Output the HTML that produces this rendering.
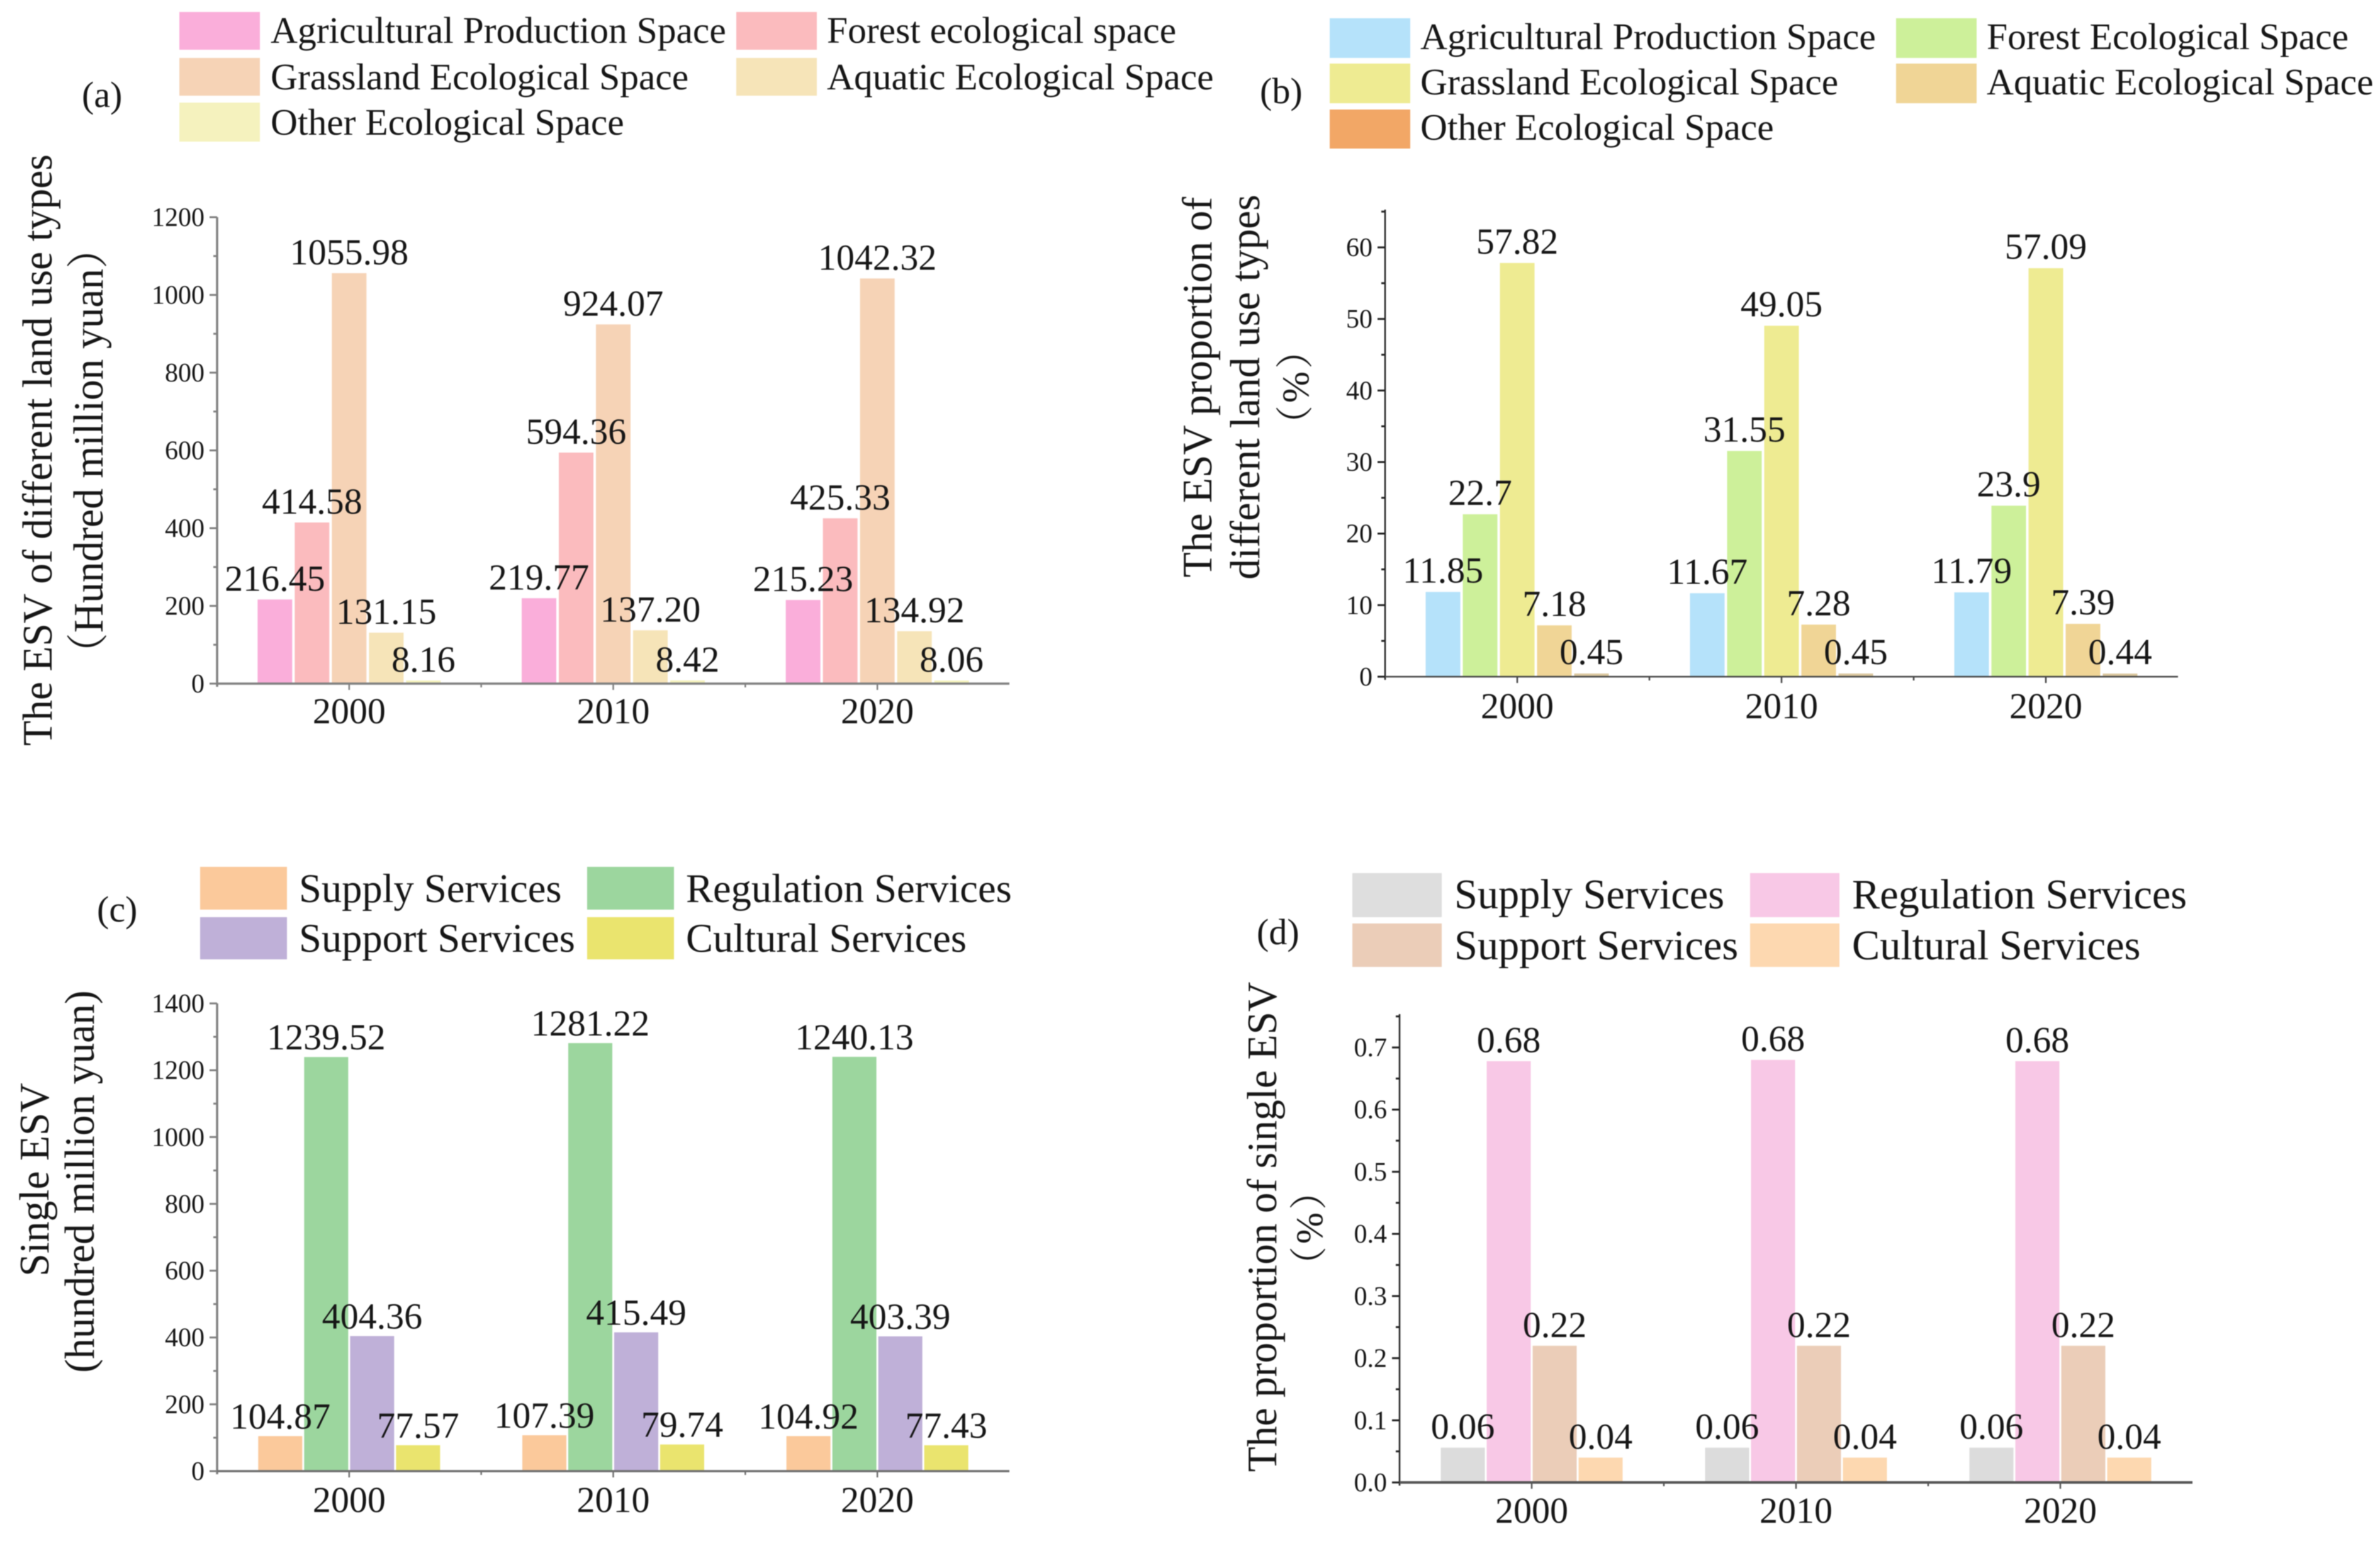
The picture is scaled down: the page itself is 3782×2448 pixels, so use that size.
<!DOCTYPE html>
<html lang="en">
<head>
<meta charset="utf-8">
<title>ESV of land use types and single services</title>
<style>
html,body{margin:0;padding:0;background:#fff;width:3782px;height:2448px;overflow:hidden}
svg{display:block;filter:blur(0.7px)}
text{font-family:"Liberation Serif","Noto Serif CJK SC",serif;fill:#161616}
.leg{font-size:59.5px}
.leg2{font-size:64.5px}
.leg3{font-size:66.3px}
.pl{font-size:58px}
.yt{font-size:65.5px;text-anchor:middle}
.pct{font-size:60px;text-anchor:middle;letter-spacing:4px}
</style>
</head>
<body>
<svg id="figure" xmlns="http://www.w3.org/2000/svg" width="3782" height="2448" viewBox="0 0 3782 2448">
<rect x="0" y="0" width="3782" height="2448" fill="#ffffff"/>

<g id="panel-a">
<text class="pl" x="130" y="170">(a)</text>
<g>
<rect x="285" y="19" width="128" height="60" fill="#FAAEDA"/>
<text class="leg" x="430" y="68">Agricultural Production Space</text>
<rect x="1170" y="19" width="128" height="60" fill="#FBBBBE"/>
<text class="leg" x="1314" y="68">Forest ecological space</text>
<rect x="285" y="92" width="128" height="60" fill="#F6D3B6"/>
<text class="leg" x="430" y="142">Grassland Ecological Space</text>
<rect x="1170" y="92" width="128" height="60" fill="#F6E4B8"/>
<text class="leg" x="1314" y="142">Aquatic Ecological Space</text>
<rect x="285" y="163" width="128" height="62" fill="#F5F2BE"/>
<text class="leg" x="430" y="214">Other Ecological Space</text>
</g>
<text class="yt" transform="translate(82,715) rotate(-90) scale(1,1.02)">The ESV of different land use types</text>
<text class="yt" transform="translate(163,716) rotate(-90) scale(1,1.02)">（Hundred million yuan）</text>
</g>

<g id="panel-b">
<text class="pl" x="2002" y="164">(b)</text>
<g>
<rect x="2113" y="29" width="128" height="63" fill="#B5E2FA"/>
<text class="leg" x="2257" y="78">Agricultural Production Space</text>
<rect x="3013" y="29" width="128" height="63" fill="#CDF09A"/>
<text class="leg" x="3157" y="78">Forest Ecological Space</text>
<rect x="2113" y="101" width="128" height="63" fill="#EEEB92"/>
<text class="leg" x="2257" y="150">Grassland Ecological Space</text>
<rect x="3013" y="101" width="128" height="63" fill="#F0D596"/>
<text class="leg" x="3157" y="150">Aquatic Ecological Space</text>
<rect x="2113" y="174" width="128" height="62" fill="#F2A766"/>
<text class="leg" x="2257" y="222">Other Ecological Space</text>
</g>
<text class="yt" transform="translate(1925,615) rotate(-90) scale(1,1.02)">The ESV proportion of</text>
<text class="yt" transform="translate(2001,615) rotate(-90) scale(1,1.02)">different land use types</text>
<text class="pct" transform="translate(2079,613) rotate(-90)">（%）</text>
</g>

<g id="panel-c">
<text class="pl" x="154" y="1464">(c)</text>
<g>
<rect x="318" y="1377" width="138" height="68" fill="#FBC99B"/>
<text class="leg2" x="475" y="1433">Supply Services</text>
<rect x="933" y="1377" width="138" height="68" fill="#9CD69E"/>
<text class="leg2" x="1090" y="1433">Regulation Services</text>
<rect x="318" y="1457" width="138" height="67" fill="#BFB0D8"/>
<text class="leg2" x="475" y="1512">Support Services</text>
<rect x="933" y="1457" width="138" height="67" fill="#EAE46E"/>
<text class="leg2" x="1090" y="1512">Cultural Services</text>
</g>
<text class="yt" transform="translate(77,1874) rotate(-90) scale(1,1.02)">Single ESV</text>
<text class="yt" transform="translate(149,1877) rotate(-90) scale(1,1.02)">(hundred million yuan)</text>
</g>

<g id="panel-d">
<text class="pl" x="1997" y="1500">(d)</text>
<g>
<rect x="2149" y="1387" width="142" height="70" fill="#DEDEDE"/>
<text class="leg3" x="2311" y="1443">Supply Services</text>
<rect x="2781" y="1387" width="142" height="70" fill="#F8C8E6"/>
<text class="leg3" x="2943" y="1443">Regulation Services</text>
<rect x="2149" y="1467" width="142" height="69" fill="#EBCDB8"/>
<text class="leg3" x="2311" y="1524">Support Services</text>
<rect x="2781" y="1467" width="142" height="69" fill="#FDD8B0"/>
<text class="leg3" x="2943" y="1524">Cultural Services</text>
</g>
<text class="yt" transform="translate(2028,1949) rotate(-90) scale(1,1.02)">The proportion of single ESV</text>
<text class="pct" transform="translate(2101,1949) rotate(-90)">（%）</text>
</g>
</svg>

<script>
// Shared categories
const years = ['2000', '2010', '2020'];

// Panel (a): ESV by land use type, hundred million yuan
const aAgricultural = [216.45, 219.77, 215.23];
const aForest = [414.58, 594.36, 425.33];
const aGrassland = [1055.98, 924.07, 1042.32];
const aAquatic = [131.15, 137.20, 134.92];
const aOther = [8.16, 8.42, 8.06];
const aTicks = [0, 200, 400, 600, 800, 1000, 1200];

// Panel (b): ESV proportion by land use type, percent
const bAgricultural = [11.85, 11.67, 11.79];
const bForest = [22.7, 31.55, 23.9];
const bGrassland = [57.82, 49.05, 57.09];
const bAquatic = [7.18, 7.28, 7.39];
const bOther = [0.45, 0.45, 0.44];
const bTicks = [0, 10, 20, 30, 40, 50, 60];

// Panel (c): single ESV, hundred million yuan
const cSupply = [104.87, 107.39, 104.92];
const cRegulation = [1239.52, 1281.22, 1240.13];
const cSupport = [404.36, 415.49, 403.39];
const cCultural = [77.57, 79.74, 77.43];
const cTicks = [0, 200, 400, 600, 800, 1000, 1200, 1400];

// Panel (d): proportion of single ESV
const dSupply = [0.056, 0.056, 0.056];
const dRegulation = [0.678, 0.68, 0.678];
const dSupport = [0.22, 0.22, 0.22];
const dCultural = [0.04, 0.04, 0.04];
const dTicks = ['0.0', '0.1', '0.2', '0.3', '0.4', '0.5', '0.6', '0.7'];

const NS = 'http://www.w3.org/2000/svg';

function node(parent, tag, attrs, txt) {
  const el = document.createElementNS(NS, tag);
  for (const k in attrs) el.setAttribute(k, attrs[k]);
  if (txt !== undefined) el.textContent = txt;
  parent.appendChild(el);
  return el;
}

function drawChart(cfg) {
  const root = document.getElementById(cfg.id);
  const bandW = (cfg.x1 - cfg.x0) / years.length;
  const xCenter = function (i) { return cfg.x0 + (i + 0.5) * bandW; };
  const yScale = function (v) { return cfg.base - (v / cfg.max) * (cfg.base - cfg.top); };
  const n = cfg.series.length;

  const barsG = node(root, 'g', {});
  
  
  const labelG = node(root, 'g', {});
  
  

  cfg.series.forEach(function (s, j) {
    s.values.forEach(function (v, i) {
      const bx = xCenter(i) + (j - n / 2) * cfg.pitch + (cfg.pitch - cfg.barW) / 2;
      const by = yScale(v);
      const bar = node(barsG, 'rect', { x: bx, y: by, width: cfg.barW, height: cfg.base - by, fill: s.color });
      
      
      const label = node(labelG, 'text', {
        x: bx + cfg.barW / 2, y: by - cfg.labelGap, 'text-anchor': 'middle', 'font-size': cfg.labelSize
      }, cfg.format(v));
      
      
    });
  });

  const axisG = node(root, 'g', {});
  
  

  const yLine = node(axisG, 'line', { x1: cfg.x0, x2: cfg.x0, y1: cfg.top0, y2: cfg.base + 5, stroke: cfg.yColor, 'stroke-width': cfg.yWidth });
  
  
  const xLine = node(axisG, 'line', { x1: cfg.x0, x2: cfg.x1, y1: cfg.base, y2: cfg.base, stroke: cfg.xColor, 'stroke-width': cfg.xWidth });
  
  

  cfg.ticks.forEach(function (t, k) {
    const val = Number(t);
    const y = yScale(val);
    const tick = node(axisG, 'line', { x1: cfg.x0 - 12, x2: cfg.x0, y1: y, y2: y, stroke: cfg.yColor, 'stroke-width': 3 });
    
    
    const lab = node(axisG, 'text', { x: cfg.x0 - 20, y: y + 14, 'text-anchor': 'end', 'font-size': 42, fill: '#2a2a2a' }, String(t));
    
    
    if (k < cfg.ticks.length - 1 || cfg.top0 < y - 10) {
      const step = Number(cfg.ticks[1]) - Number(cfg.ticks[0]);
      const my = yScale(val + step / 2);
      const minor = node(axisG, 'line', { x1: cfg.x0 - 6, x2: cfg.x0, y1: my, y2: my, stroke: cfg.yColor, 'stroke-width': 3 });
      
      
    }
  });

  years.forEach(function (yr, i) {
    const cx = xCenter(i);
    const tick = node(axisG, 'line', { x1: cx, x2: cx, y1: cfg.base, y2: cfg.base + 10, stroke: cfg.xColor, 'stroke-width': 2.5 });
    
    
    const lab = node(axisG, 'text', { x: cx, y: cfg.base + cfg.yearGap, 'text-anchor': 'middle', 'font-size': 58 }, yr);
    
    
    if (i > 0) {
      const bx = cfg.x0 + i * bandW;
      const sep = node(axisG, 'line', { x1: bx, x2: bx, y1: cfg.base, y2: cfg.base + 6, stroke: cfg.xColor, 'stroke-width': 2.5 });
      
      
    }
  });
}

const two = function (v) { return v.toFixed(2); };
const plain = function (v) { return String(v); };

drawChart({
  id: 'panel-a', x0: 345, x1: 1604, base: 1086, top: 345, top0: 345, max: 1200,
  pitch: 59, barW: 55, labelGap: 14, labelSize: 58, yearGap: 63,
  yColor: '#808080', xColor: '#808080', yWidth: 3.5, xWidth: 3.5, ticks: aTicks, format: two,
  series: [
    { name: 'agricultural', values: aAgricultural, color: '#FAAEDA' },
    { name: 'forest', values: aForest, color: '#FBBBBE' },
    { name: 'grassland', values: aGrassland, color: '#F6D3B6' },
    { name: 'aquatic', values: aAquatic, color: '#F6E4B8' },
    { name: 'other', values: aOther, color: '#F5F2BE' }
  ]
});

drawChart({
  id: 'panel-b', x0: 2201, x1: 3461, base: 1075, top: 393, top0: 333, max: 60,
  pitch: 59, barW: 55, labelGap: 15, labelSize: 58, yearGap: 66,
  yColor: '#222222', xColor: '#444444', yWidth: 2.5, xWidth: 2.5, ticks: bTicks, format: plain,
  series: [
    { name: 'agricultural', values: bAgricultural, color: '#B5E2FA' },
    { name: 'forest', values: bForest, color: '#CDF09A' },
    { name: 'grassland', values: bGrassland, color: '#EEEB92' },
    { name: 'aquatic', values: bAquatic, color: '#F0D596' },
    { name: 'other', values: bOther, color: '#DCC8A0' }
  ]
});

drawChart({
  id: 'panel-c', x0: 345, x1: 1604, base: 2337, top: 1594, top0: 1594, max: 1400,
  pitch: 73, barW: 70, labelGap: 12, labelSize: 58, yearGap: 65,
  yColor: '#808080', xColor: '#707070', yWidth: 3.5, xWidth: 3.5, ticks: cTicks, format: two,
  series: [
    { name: 'supply', values: cSupply, color: '#FBC99B' },
    { name: 'regulation', values: cRegulation, color: '#9CD69E' },
    { name: 'support', values: cSupport, color: '#BFB0D8' },
    { name: 'cultural', values: cCultural, color: '#EAE46E' }
  ]
});

drawChart({
  id: 'panel-d', x0: 2224, x1: 3484, base: 2355, top: 1664, top0: 1611, max: 0.7,
  pitch: 73, barW: 70, labelGap: 14, labelSize: 58, yearGap: 64,
  yColor: '#222222', xColor: '#555555', yWidth: 2.5, xWidth: 4, ticks: dTicks, format: two,
  series: [
    { name: 'supply', values: dSupply, color: '#DCDCDC' },
    { name: 'regulation', values: dRegulation, color: '#F8C8E6' },
    { name: 'support', values: dSupport, color: '#EBCDB8' },
    { name: 'cultural', values: dCultural, color: '#FDD8B0' }
  ]
});
</script>
</body>
</html>
